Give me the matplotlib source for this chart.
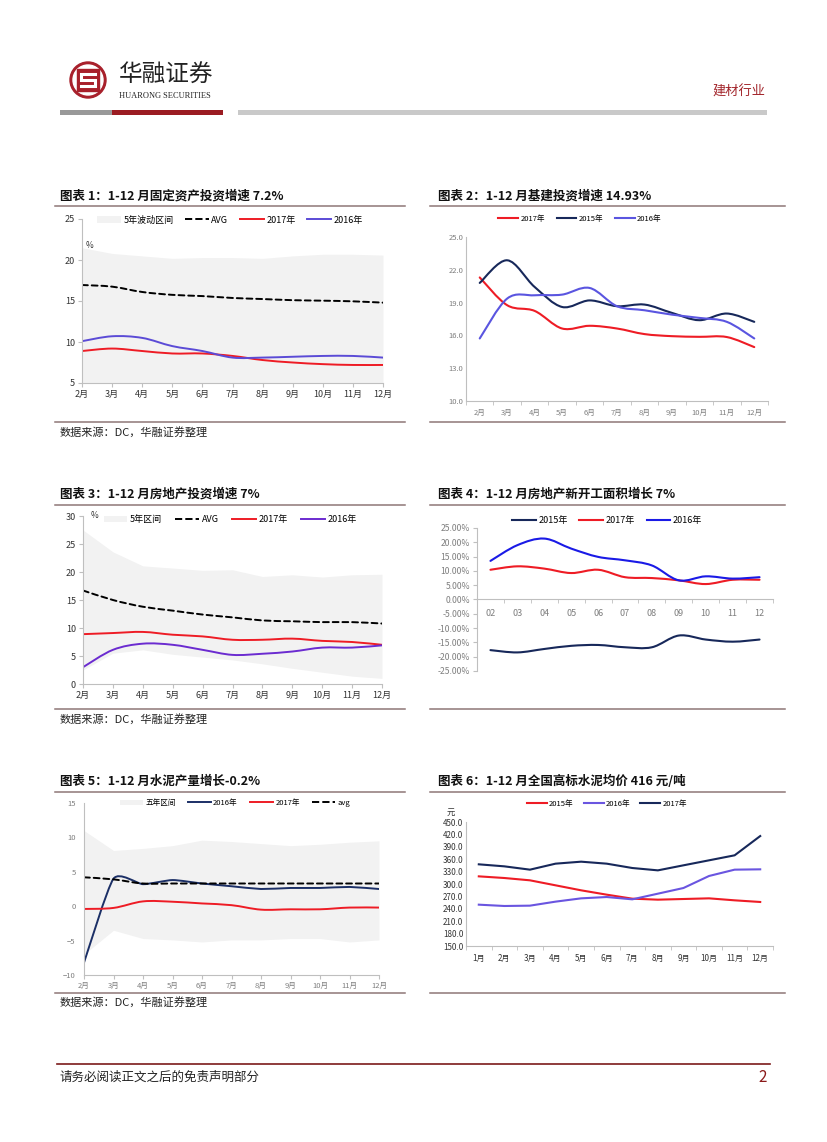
import numpy as np
import matplotlib
matplotlib.use("Agg")
import matplotlib.pyplot as plt
from matplotlib.path import Path
from matplotlib.patches import PathPatch, Patch, Circle, Rectangle
from matplotlib.lines import Line2D

plt.rcParams['font.family'] = ['Noto Sans CJK SC', 'DejaVu Sans']

# ---------------- data ----------------
months_2_12 = ['2月', '3月', '4月', '5月', '6月', '7月', '8月', '9月', '10月', '11月', '12月']
months_02_12 = ['02', '03', '04', '05', '06', '07', '08', '09', '10', '11', '12']
months_1_12 = ['1月', '2月', '3月', '4月', '5月', '6月', '7月', '8月', '9月', '10月', '11月', '12月']

# 图表1 固定资产投资
fa_band_hi = [21.5, 20.8, 20.5, 20.2, 20.3, 20.3, 20.2, 20.5, 20.7, 20.7, 20.6]
fa_band_lo = [5.0, 5.0, 5.0, 5.0, 5.0, 5.0, 5.0, 5.0, 5.0, 5.0, 5.0]
fa_avg = [16.95, 16.75, 16.1, 15.75, 15.6, 15.37, 15.24, 15.1, 15.04, 14.96, 14.8]
fa_2017 = [8.9, 9.2, 8.9, 8.6, 8.6, 8.3, 7.8, 7.5, 7.3, 7.2, 7.2]
fa_2016 = [10.1, 10.7, 10.5, 9.5, 8.9, 8.1, 8.1, 8.2, 8.3, 8.3, 8.1]

# 图表2 基建投资
infra_2017 = [21.3, 18.76, 18.24, 16.63, 16.88, 16.63, 16.12, 15.93, 15.87, 15.85, 14.93]
infra_2015 = [20.8, 22.87, 20.43, 18.6, 19.2, 18.67, 18.82, 18.06, 17.39, 18.0, 17.24]
infra_2016 = [15.72, 19.37, 19.67, 19.73, 20.34, 18.67, 18.3, 17.9, 17.6, 17.24, 15.72]

# 图表3 房地产投资
re_band_hi = [27.5, 23.6, 21.1, 20.7, 20.3, 20.4, 19.2, 19.5, 19.1, 19.5, 19.6]
re_band_lo = [2.5, 5.5, 6.1, 5.3, 4.8, 4.3, 3.6, 2.8, 2.1, 1.4, 1.0]
re_avg = [16.7, 15.0, 13.8, 13.1, 12.4, 11.9, 11.35, 11.2, 11.05, 11.05, 10.8]
re_2017 = [8.9, 9.1, 9.3, 8.8, 8.5, 7.9, 7.9, 8.1, 7.7, 7.5, 7.0]
re_2016 = [3.0, 6.1, 7.2, 7.0, 6.1, 5.2, 5.4, 5.8, 6.5, 6.5, 6.9]

# 图表4 新开工面积
ns_2015 = [-17.7, -18.5, -17.3, -16.2, -15.9, -16.7, -16.7, -12.6, -14.0, -14.75, -14.0]
ns_2017 = [10.4, 11.6, 10.8, 9.25, 10.4, 7.8, 7.5, 6.7, 5.4, 6.9, 6.9]
ns_2016 = [13.5, 19.0, 21.3, 17.8, 14.9, 13.7, 11.9, 6.7, 8.1, 7.3, 7.8]

# 图表5 水泥产量
ce_band_hi = [11.0, 8.1, 8.4, 8.8, 9.6, 9.4, 9.1, 8.8, 9.0, 9.3, 9.5]
ce_band_lo = [-7.0, -3.5, -4.7, -4.9, -5.2, -4.9, -4.9, -4.7, -4.7, -5.2, -4.9]
ce_2016 = [-8.2, 4.0, 3.2, 3.8, 3.3, 2.9, 2.5, 2.65, 2.65, 2.8, 2.5]
ce_2017 = [-0.4, -0.25, 0.7, 0.65, 0.4, 0.15, -0.5, -0.45, -0.45, -0.2, -0.2]
ce_avg = [4.2, 3.9, 3.3, 3.3, 3.3, 3.3, 3.3, 3.3, 3.3, 3.3, 3.3]

# 图表6 水泥均价
cp_2015 = [318.5, 314.5, 308.9, 296.8, 284.7, 274.2, 264.5, 262.1, 263.7, 265.3, 260.5, 256.5]
cp_2016 = [250.0, 246.8, 247.6, 257.3, 265.3, 268.5, 262.9, 276.6, 290.3, 319.4, 334.7, 335.5]
cp_2017 = [347.6, 342.7, 334.7, 349.2, 354.0, 349.2, 338.7, 333.0, 345.2, 357.3, 369.4, 416.0]

# ---------------- layout helpers ----------------
W, H = 827, 1142
fig = plt.figure(figsize=(8.27, 11.42), dpi=100)

bg = fig.add_axes([0, 0, 1, 1])
bg.set_xlim(0, W)
bg.set_ylim(H, 0)
bg.axis('off')


def make_ax(l, t, r, b):
    return fig.add_axes([l / W, 1 - b / H, (r - l) / W, (b - t) / H])


def smooth(ax, xs, ys, k=1 / 6, **kw):
    # 平滑曲线 (类似 Excel 平滑线)
    pts = np.column_stack([xs, ys]).astype(float)
    n = len(pts)
    verts = [pts[0]]
    codes = [Path.MOVETO]
    for i in range(n - 1):
        p0 = pts[max(i - 1, 0)]
        p1 = pts[i]
        p2 = pts[i + 1]
        p3 = pts[min(i + 2, n - 1)]
        verts += [p1 + (p2 - p0) * k, p2 - (p3 - p1) * k, p2]
        codes += [Path.CURVE4] * 3
    ax.add_patch(PathPatch(Path(verts, codes), fill=False, capstyle='round', **kw))


def style_ax(ax, labelsize, labelcolor):
    for s in ['top', 'right']:
        ax.spines[s].set_visible(False)
    for s in ['left', 'bottom']:
        ax.spines[s].set_color('#BFBFBF')
        ax.spines[s].set_linewidth(0.8)
    ax.tick_params(which='both', length=3, color='#BFBFBF', labelsize=labelsize,
                   labelcolor=labelcolor, pad=2)
    ax.set_facecolor('none')


def legend(handles, labels, cx, cy, fs, hl=2.5, cs=1.2):
    fig.legend(handles, labels, loc='center', bbox_to_anchor=(cx / W, 1 - cy / H),
               ncol=len(labels), frameon=False, fontsize=fs, handlelength=hl,
               handletextpad=0.3, columnspacing=cs, borderaxespad=0, borderpad=0)


RED = '#EE1C25'
NAVY = '#17285A'
BAND = '#F2F2F2'
RULE = '#8E7676'

# ---------------- header ----------------
bg.add_patch(Circle((88, 80), 18, color='#A8202B'))
bg.add_patch(Circle((88, 80), 15, color='white'))
bg.add_patch(Rectangle((77, 69), 22, 22, color='#A8202B'))
bg.plot([95, 81, 81, 95, 95, 81], [74, 74, 80, 80, 86, 86], color='white', lw=2.2,
        solid_joinstyle='miter')
bg.text(119, 75, '华融证券', fontsize=17, va='center', color='#222222')
bg.text(119, 96, 'HUARONG SECURITIES', family='Liberation Serif', fontsize=6,
        va='center', color='#222222')
bg.text(765, 92, '建材行业', ha='right', va='center', fontsize=9.5, color='#A3262C')
bg.add_patch(Rectangle((60, 110), 52, 5, color='#999999', lw=0))
bg.add_patch(Rectangle((112, 110), 111, 5, color='#9B1C22', lw=0))
bg.add_patch(Rectangle((238, 110), 529, 5, color='#C9C9C9', lw=0))

# titles and rules
titles = [
    (60, 196, '图表 1：1-12 月固定资产投资增速 7.2%'),
    (438, 196, '图表 2：1-12 月基建投资增速 14.93%'),
    (60, 494, '图表 3：1-12 月房地产投资增速 7%'),
    (438, 494, '图表 4：1-12 月房地产新开工面积增长 7%'),
    (60, 781, '图表 5：1-12 月水泥产量增长-0.2%'),
    (438, 781, '图表 6：1-12 月全国高标水泥均价 416 元/吨'),
]
for x, y, s in titles:
    bg.text(x, y, s, fontsize=9, weight='bold', style='italic', va='center', color='#111111')

for y in [206, 422, 505, 709, 792, 993]:
    bg.plot([55, 405], [y, y], color=RULE, lw=1.1)
    bg.plot([430, 785], [y, y], color=RULE, lw=1.1)

for y in [432, 719, 1002]:
    bg.text(60, y, '数据来源：DC，华融证券整理', fontsize=8, va='center', color='#222222')

# footer
bg.plot([57, 770], [1064, 1064], color='#7B1A1A', lw=1.2)
bg.text(60, 1077, '请务必阅读正文之后的免责声明部分', fontsize=9, va='center', color='#222222')
bg.text(767, 1077, '2', fontsize=11, ha='right', va='center', color='#8B1A1A')

# ---------------- 图表1 ----------------
ax1 = make_ax(82, 219, 383, 383)
x11 = np.arange(len(months_2_12))
ax1.fill_between(x11, fa_band_lo, fa_band_hi, color=BAND, lw=0)
smooth(ax1, x11, fa_avg, color='black', lw=1.4, ls=(0, (3, 2)))
smooth(ax1, x11, fa_2017, color=RED, lw=1.4)
smooth(ax1, x11, fa_2016, color='#5B4BD6', lw=1.4)
ax1.set_xlim(0, 10)
ax1.set_ylim(5, 25)
ax1.set_yticks([5, 10, 15, 20, 25])
ax1.set_xticks(x11)
ax1.set_xticklabels(months_2_12)
style_ax(ax1, 6.5, '#333333')
bg.text(86, 245, '%', fontsize=6, va='center', color='#333333')
legend([Patch(fc=BAND, ec='none'), Line2D([], [], color='k', ls='--', lw=1.4),
        Line2D([], [], color=RED, lw=1.4), Line2D([], [], color='#5B4BD6', lw=1.4)],
       ['5年波动区间', 'AVG', '2017年', '2016年'], 230, 220, 6.5, hl=2.6, cs=1.3)

# ---------------- 图表2 ----------------
ax2 = make_ax(466, 237, 768, 401)
smooth(ax2, x11, infra_2017, color=RED, lw=1.5)
smooth(ax2, x11, infra_2015, color=NAVY, lw=1.5)
smooth(ax2, x11, infra_2016, color='#5A55E0', lw=1.5)
ax2.set_xlim(-0.5, 10.5)
ax2.set_ylim(10, 25)
ax2.set_yticks([10, 13, 16, 19, 22, 25])
ax2.set_yticklabels(['%.1f' % v for v in [10, 13, 16, 19, 22, 25]])
ax2.set_xticks(x11)
ax2.set_xticklabels(months_2_12)
ax2.set_xticks(np.arange(-0.5, 11, 1), minor=True)
style_ax(ax2, 5.5, '#7F7F7F')
ax2.tick_params(axis='x', which='major', length=0, pad=6)
ax2.tick_params(axis='y', length=0)
legend([Line2D([], [], color=RED, lw=1.5), Line2D([], [], color=NAVY, lw=1.5),
        Line2D([], [], color='#5A55E0', lw=1.5)],
       ['2017年', '2015年', '2016年'], 580, 219, 5.5, hl=2.6, cs=1.5)

# ---------------- 图表3 ----------------
ax3 = make_ax(83, 516, 382, 684)
ax3.fill_between(x11, re_band_lo, re_band_hi, color=BAND, lw=0)
smooth(ax3, x11, re_avg, color='black', lw=1.4, ls=(0, (3, 2)))
smooth(ax3, x11, re_2017, color=RED, lw=1.4)
smooth(ax3, x11, re_2016, color='#6B2BD0', lw=1.4)
ax3.set_xlim(0, 10)
ax3.set_ylim(0, 30)
ax3.set_yticks([0, 5, 10, 15, 20, 25, 30])
ax3.set_xticks(x11)
ax3.set_xticklabels(months_2_12)
style_ax(ax3, 6.5, '#333333')
bg.text(91, 516, '%', fontsize=6, va='center', color='#333333')
legend([Patch(fc=BAND, ec='none'), Line2D([], [], color='k', ls='--', lw=1.4),
        Line2D([], [], color=RED, lw=1.4), Line2D([], [], color='#6B2BD0', lw=1.4)],
       ['5年区间', 'AVG', '2017年', '2016年'], 230, 520, 6.5, hl=2.6, cs=1.5)

# ---------------- 图表4 ----------------
ax4 = make_ax(477, 528, 773, 671)
smooth(ax4, x11, ns_2015, color=NAVY, lw=1.5)
smooth(ax4, x11, ns_2017, color=RED, lw=1.5)
smooth(ax4, x11, ns_2016, color='#1A1AE6', lw=1.5)
ax4.set_xlim(-0.5, 10.5)
ax4.set_ylim(-25, 25)
yt4 = np.arange(-25, 26, 5)
ax4.set_yticks(yt4)
ax4.set_yticklabels(['%.2f%%' % v for v in yt4])
ax4.set_xticks(x11)
ax4.set_xticklabels(months_02_12)
ax4.set_xticks(np.arange(-0.5, 11, 1), minor=True)
style_ax(ax4, 6.2, '#7F7F7F')
ax4.spines['bottom'].set_position(('data', 0))
ax4.tick_params(axis='x', which='major', length=0, pad=7, labelsize=6.5)
legend([Line2D([], [], color=NAVY, lw=1.5), Line2D([], [], color=RED, lw=1.5),
        Line2D([], [], color='#1A1AE6', lw=1.5)],
       ['2015年', '2017年', '2016年'], 607, 521, 6.5, hl=2.6, cs=1.3)

# ---------------- 图表5 ----------------
ax5 = make_ax(84, 803, 379, 975)
ax5.fill_between(x11, ce_band_lo, ce_band_hi, color=BAND, lw=0)
smooth(ax5, x11, ce_2016, k=0.1, color='#1B2F66', lw=1.4)
smooth(ax5, x11, ce_2017, color=RED, lw=1.4)
smooth(ax5, x11, ce_avg, color='black', lw=1.4, ls=(0, (3, 2)))
ax5.set_xlim(0, 10)
ax5.set_ylim(-10, 15)
ax5.set_yticks([-10, -5, 0, 5, 10, 15])
ax5.set_xticks(x11)
ax5.set_xticklabels(months_2_12)
style_ax(ax5, 5.5, '#7F7F7F')
ax5.tick_params(axis='y', length=0, pad=6)
legend([Patch(fc=BAND, ec='none'), Line2D([], [], color='#1B2F66', lw=1.4),
        Line2D([], [], color=RED, lw=1.4), Line2D([], [], color='k', ls='--', lw=1.4)],
       ['五年区间', '2016年', '2017年', 'avg'], 235, 803, 5.5, hl=3.0, cs=1.6)

# ---------------- 图表6 ----------------
ax6 = make_ax(466, 822, 773, 946)
x12 = np.arange(len(months_1_12))
ax6.plot(x12, cp_2015, color=RED, lw=1.5)
ax6.plot(x12, cp_2016, color='#6A55E0', lw=1.5)
ax6.plot(x12, cp_2017, color=NAVY, lw=1.5)
ax6.set_xlim(-0.5, 11.5)
ax6.set_ylim(150, 450)
yt6 = np.arange(150, 451, 30)
ax6.set_yticks(yt6)
ax6.set_yticklabels(['%.1f' % v for v in yt6])
ax6.set_xticks(x12)
ax6.set_xticklabels(months_1_12)
ax6.set_xticks(np.arange(-0.5, 12, 1), minor=True)
style_ax(ax6, 5.8, '#333333')
ax6.tick_params(axis='x', which='major', length=0, pad=6)
ax6.tick_params(axis='y', length=0)
bg.text(451, 812, '元', fontsize=6, ha='center', va='center', color='#333333')
legend([Line2D([], [], color=RED, lw=1.5), Line2D([], [], color='#6A55E0', lw=1.5),
        Line2D([], [], color=NAVY, lw=1.5)],
       ['2015年', '2016年', '2017年'], 607, 804, 5.5, hl=2.6, cs=1.3)

fig.savefig('out.png', dpi=100)
